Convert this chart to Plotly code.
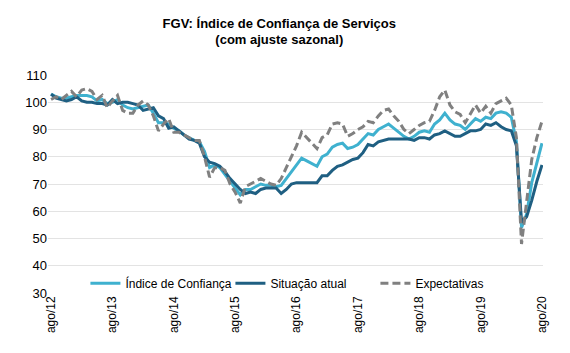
import plotly.graph_objects as go

# month index 0 = ago/12 ... 96 = ago/20
months = list(range(97))
tick_pos = [0, 12, 24, 36, 48, 60, 72, 84, 96]
tick_labels = ["ago/12", "ago/13", "ago/14", "ago/15", "ago/16", "ago/17", "ago/18", "ago/19", "ago/20"]

indice = [103, 102, 101.5, 101.5, 102, 102.5, 102.5, 102.5, 102, 100.5,
          101, 99.5, 100, 101, 99, 98, 97.5, 98, 98.5, 99,
          96, 92.5, 92.5, 92, 90.5, 89.5, 88, 87, 86, 85.5,
          82, 76, 77, 76, 73.5, 71, 68.5, 66, 68, 68,
          69, 70, 69.5, 69.5, 69, 69.5, 72, 74.5, 77, 79.5,
          78.5, 77.5, 76.5, 80, 81, 83.5, 84.5, 85, 83, 83.5,
          84.5, 86.5, 88.5, 88, 90, 91, 92, 90.5, 89, 87.5,
          86.5, 87.5, 89, 89.5, 89, 92, 93.5, 96, 93.5, 92,
          91.5, 90, 92, 94, 93, 94.5, 94, 96, 96.5, 96,
          94.5, 85.5, 54, 59, 70.5, 78, 85]

situacao = [103, 101.5, 101, 100.5, 101, 102, 100.5, 100, 100, 99.5,
            99.5, 99, 101, 99.5, 100, 100, 99.5, 99, 97, 97.5,
            98, 95, 94, 90.5, 91, 89.5, 88, 86.5, 86, 85,
            80, 78, 77.5, 76.5, 74.5, 72, 70, 68, 66.5, 67,
            66.5, 68, 68.5, 68.5, 68.5, 66.5, 68, 70, 70.5, 70.5,
            70.5, 70.5, 70.5, 73, 73, 75, 76.5, 77, 78, 79,
            79.5, 81.5, 84.5, 84, 85.5, 86, 86.5, 86.5, 86.5, 86.5,
            86.5, 86, 87, 87, 86.5, 88, 88.5, 89.5, 88.5, 87.5,
            87.5, 88.5, 89.5, 89.5, 90, 92, 91.5, 92.5, 91, 90,
            89.5, 84, 56, 58, 64, 71, 77]

expectativas = [101, 102, 101, 102.5, 104, 102, 104.5, 105, 104, 101,
                102.5, 98, 100.5, 102.5, 97, 96, 96, 99, 100.5, 99,
                95, 89.5, 92, 94, 89, 89, 88, 87, 86, 86,
                80, 72.5, 76, 76, 75, 70, 67, 63, 69, 70,
                71, 72, 71, 70, 69.5, 72, 76, 80, 84, 89,
                87, 85, 83, 87, 88, 92, 92.5, 92, 87.5, 88.5,
                90, 91, 93, 92.5, 95, 97, 97.5, 95, 93, 90,
                88.5, 90, 91.5, 92.5, 93, 97, 102, 104.5, 99, 96.5,
                95.5, 92.5, 96, 99, 96, 98.5, 96, 99.5, 100.5, 101.5,
                99, 87, 48, 64, 79, 87, 93]

font_family = "Liberation Sans, Arial, sans-serif"

fig = go.Figure()
fig.add_trace(go.Scatter(x=months, y=indice, mode="lines", name="Índice de Confiança",
                         line=dict(color="#3fb1cf", width=3)))
fig.add_trace(go.Scatter(x=months, y=situacao, mode="lines", name="Situação atual",
                         line=dict(color="#1f5f82", width=3)))
fig.add_trace(go.Scatter(x=months, y=expectativas, mode="lines", name="Expectativas",
                         line=dict(color="#808080", width=3, dash="8px,4px")))

fig.update_layout(
    width=570, height=353,
    margin=dict(l=48, r=27, t=75, b=60),
    paper_bgcolor="white", plot_bgcolor="white",
    font=dict(family=font_family, size=12, color="#000000"),
    title=dict(text="<b>FGV: Índice de Confiança de Serviços<br>(com ajuste sazonal)</b>",
               x=0.49, xanchor="center", y=0.922, yanchor="middle",
               font=dict(family=font_family, size=13, color="#000000")),
    showlegend=True,
    legend=dict(orientation="h", x=0.515, xanchor="center", y=0.045, yanchor="middle",
                bgcolor="rgba(255,255,255,0)", font=dict(size=12, family=font_family),
                itemwidth=30, tracegroupgap=0, entrywidth=100, entrywidthmode="pixels"),
    xaxis=dict(range=[-0.6, 96.2], tickmode="array", tickvals=tick_pos, ticktext=tick_labels,
               tickangle=-90, showgrid=False, zeroline=False, showline=False,
               tickfont=dict(size=12, family=font_family, color="#000000"), ticks=""),
    yaxis=dict(range=[30, 110], dtick=10, tick0=30, showgrid=True, gridcolor="#e3e3e3",
               gridwidth=1, zeroline=False, showline=False, ticks="",
               tickfont=dict(size=13, family=font_family, color="#000000")),
)

fig.write_html("out.html")
